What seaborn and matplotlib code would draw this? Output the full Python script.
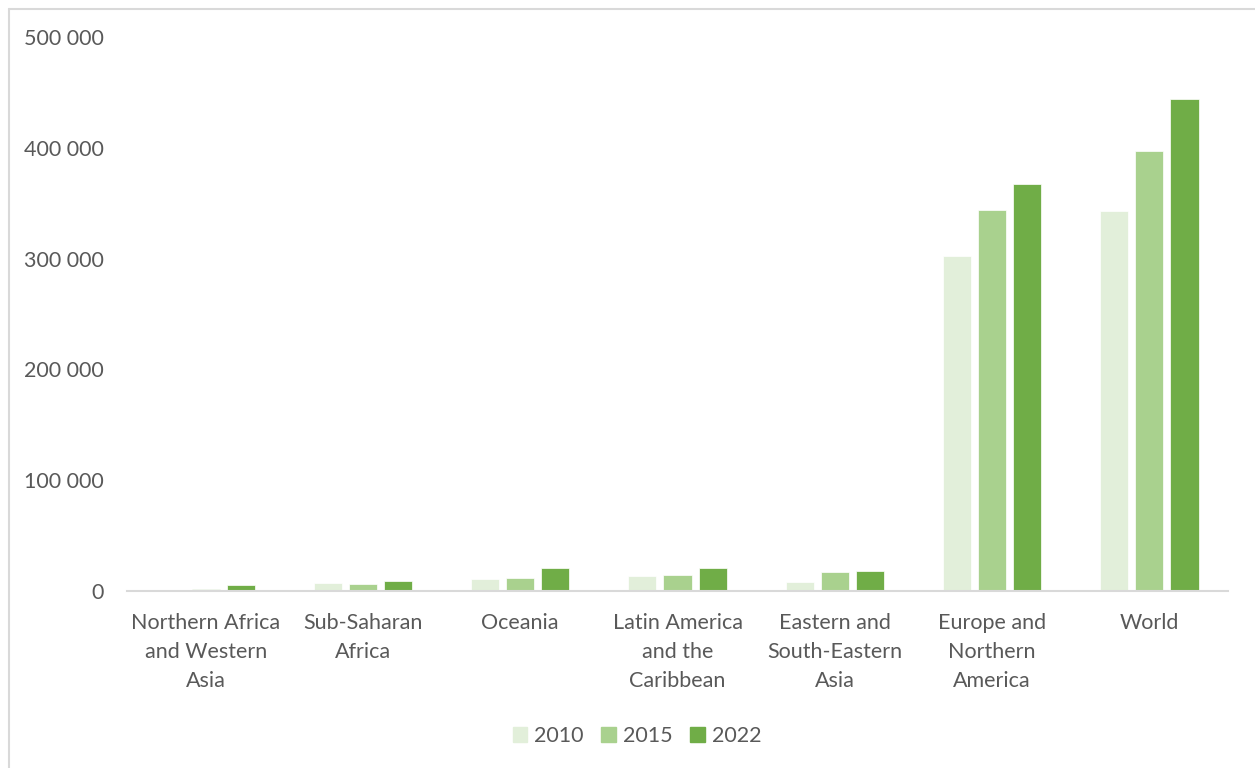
import pandas as pd
import matplotlib.pyplot as plt
from matplotlib.lines import Line2D
from matplotlib.ticker import FuncFormatter
import seaborn as sns

regions = ['Northern Africa\nand Western\nAsia', 'Sub-Saharan\nAfrica', 'Oceania',
           'Latin America\nand the\nCaribbean', 'Eastern and\nSouth-Eastern\nAsia',
           'Europe and\nNorthern\nAmerica', 'World']
years = ['2010', '2015', '2022']
v2010 = [300, 7000, 10800, 13500, 8100, 302300, 343000]
v2015 = [2000, 6300, 11700, 14400, 17100, 343900, 397100]
v2022 = [5500, 9300, 20700, 20700, 18000, 367300, 443800]
colors = ['#E2EFDA', '#A9D18E', '#70AD47']

df = pd.DataFrame({
    'Region': regions * 3,
    'Year': [y for y in years for _ in regions],
    'Value': v2010 + v2015 + v2022,
})

sns.set_style('white')
plt.rcParams['font.family'] = ['Lato', 'DejaVu Sans']
grey = '#595959'
fs = 15.5

fig = plt.figure(figsize=(12.55, 7.68), dpi=100)
ax = fig.add_axes([0.1012, 0.2305, 0.8773, 0.7213])

sns.barplot(data=df, x='Region', y='Value', hue='Year', palette=colors, saturation=1,
            width=0.67, gap=0.2, ax=ax, edgecolor='white', linewidth=0.5)

ax.set_xlim(-0.5, 6.5)
ax.set_ylim(0, 500000)
ax.set_yticks([0, 100000, 200000, 300000, 400000, 500000])
ax.yaxis.set_major_formatter(FuncFormatter(lambda v, p: f'{int(v):,}'.replace(',', ' ')))
ax.set_xticks(range(len(regions)))
ax.set_xticklabels(regions, linespacing=1.56)
ax.set_xlabel('')
ax.set_ylabel('')
for s in ['top', 'right', 'left']:
    ax.spines[s].set_visible(False)
ax.spines['bottom'].set_color('#D9D9D9')
ax.spines['bottom'].set_linewidth(1.5)
ax.tick_params(axis='both', length=0, labelsize=fs, labelcolor=grey)
ax.tick_params(axis='y', pad=17)
ax.tick_params(axis='x', pad=16)

handles = [plt.Rectangle((0, 0), 1, 1, color=c) for c in colors]
ax.legend(handles, years, loc='center', bbox_to_anchor=(0.463, -0.262), ncol=3,
          frameon=False, fontsize=fs, labelcolor=grey, handlelength=0.68,
          handleheight=0.68, handletextpad=0.3, columnspacing=0.85)

# outer chart border (left and top)
fig.add_artist(Line2D([8.5 / 1255, 8.5 / 1255], [0, 1 - 8.5 / 768],
                      transform=fig.transFigure, color='#D9D9D9', lw=1.5))
fig.add_artist(Line2D([8.5 / 1255, 1], [1 - 8.5 / 768, 1 - 8.5 / 768],
                      transform=fig.transFigure, color='#D9D9D9', lw=1.5))

plt.savefig('out.png', dpi=100)
